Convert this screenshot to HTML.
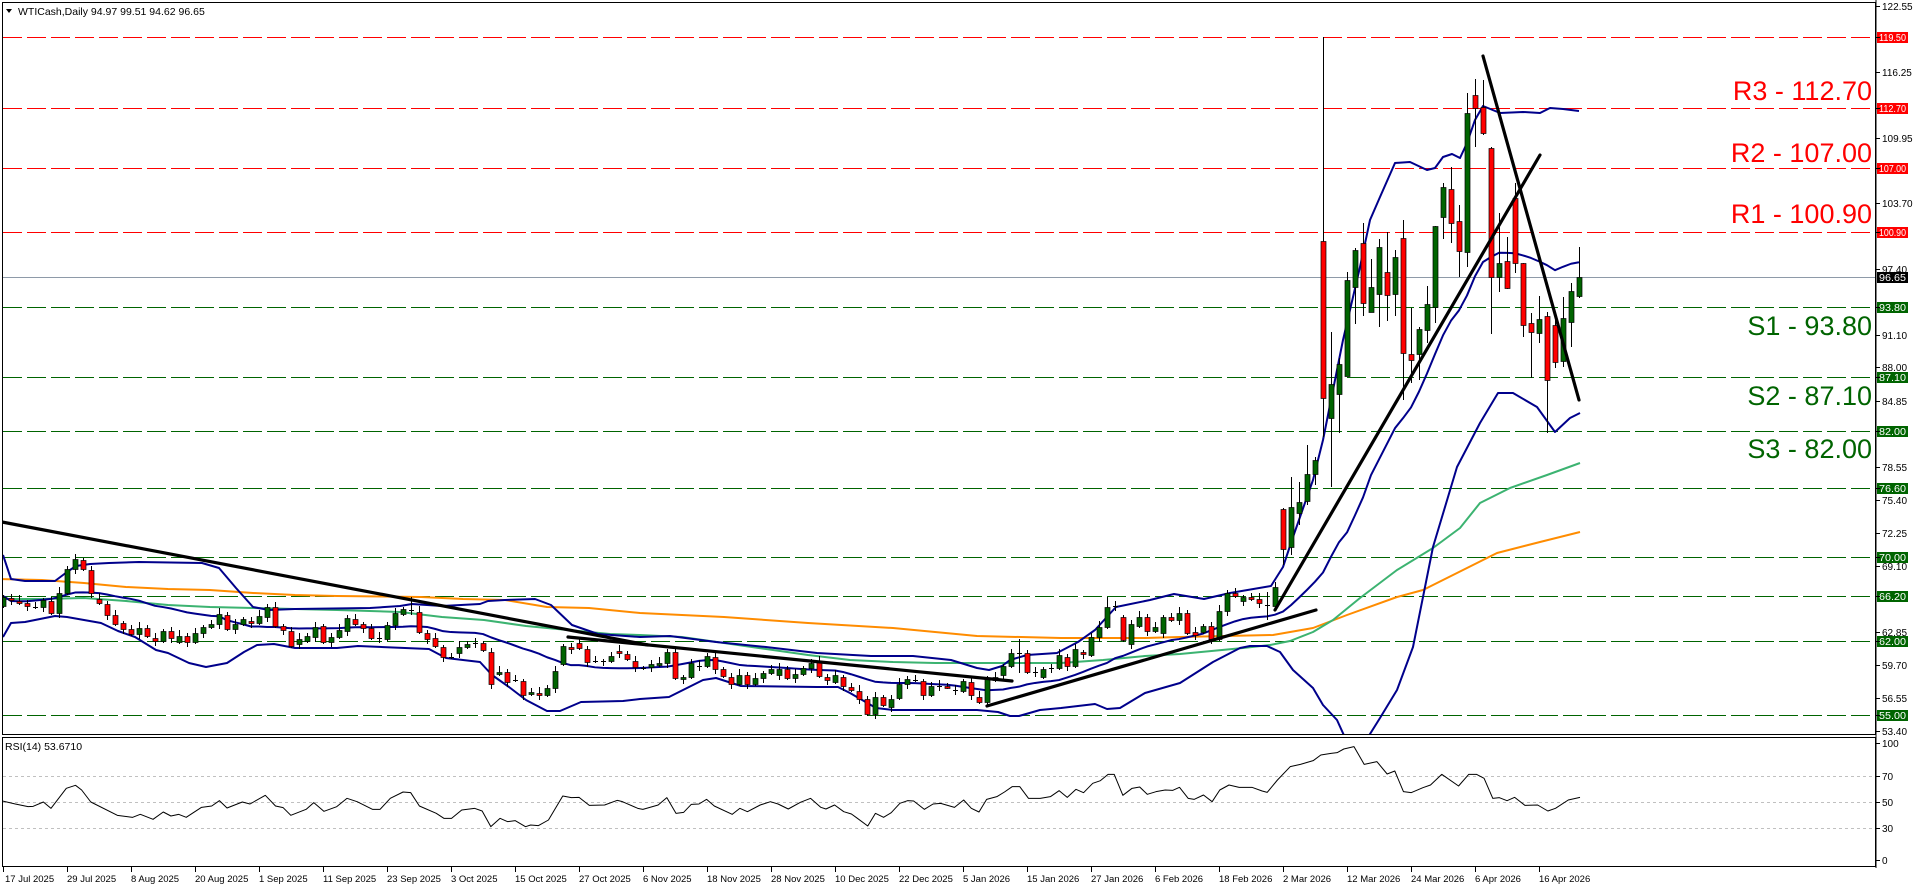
<!DOCTYPE html>
<html><head><meta charset="utf-8">
<style>
html,body{margin:0;padding:0;background:#fff;}
svg{display:block;font-family:"Liberation Sans",sans-serif;}
</style></head>
<body>
<svg id="c" width="1916" height="888" viewBox="0 0 1916 888" xmlns="http://www.w3.org/2000/svg">
<defs><clipPath id="mp"><rect x="3" y="3" width="1872" height="731"/></clipPath>
<clipPath id="rp"><rect x="3" y="738" width="1872" height="128"/></clipPath></defs>
<rect width="1916" height="888" fill="#fff"/>
<g id="lines"></g>
<g id="ind" clip-path="url(#mp)"></g>
<g id="cand" clip-path="url(#mp)"></g>
<g id="trend" clip-path="url(#mp)"></g>
<g id="rsi" clip-path="url(#rp)"></g>
<rect x="2.5" y="2.5" width="1873" height="732" fill="none" stroke="#000" stroke-width="1"/>
<rect x="2.5" y="737.5" width="1873" height="129" fill="none" stroke="#000" stroke-width="1"/>
<line x1="1876" y1="0" x2="1876" y2="868" stroke="#000"/>
<polygon points="6,9 12,9 9,13" fill="#000"/>
<text x="18" y="15" font-size="10.5" fill="#000">WTICash,Daily  94.97 99.51 94.62 96.65</text>
<text x="5" y="750" font-size="10.5" fill="#000">RSI(14) 53.6710</text>
<g font-size="27" text-anchor="end">
<text x="1872" y="100" fill="#ff0000">R3 - 112.70</text>
<text x="1872" y="162" fill="#ff0000">R2 - 107.00</text>
<text x="1872" y="223" fill="#ff0000">R1 - 100.90</text>
<text x="1872" y="335" fill="#006400">S1 - 93.80</text>
<text x="1872" y="405" fill="#006400">S2 - 87.10</text>
<text x="1872" y="458" fill="#006400">S3 - 82.00</text>
</g>
<g font-size="10" fill="#000" id="ax">
<text x="1882" y="10">122.55</text>
<text x="1882" y="76">116.25</text>
<text x="1882" y="142">109.95</text>
<text x="1882" y="207">103.70</text>
<text x="1882" y="273">97.40</text>
<text x="1882" y="339">91.10</text>
<text x="1882" y="371">88.00</text>
<text x="1882" y="405">84.85</text>
<text x="1882" y="471">78.55</text>
<text x="1882" y="504">75.40</text>
<text x="1882" y="537">72.25</text>
<text x="1882" y="570">69.10</text>
<text x="1882" y="636">62.85</text>
<text x="1882" y="669">59.70</text>
<text x="1882" y="702">56.55</text>
<text x="1882" y="735">53.40</text>
<text x="1882" y="747">100</text>
<text x="1882" y="780">70</text>
<text x="1882" y="806">50</text>
<text x="1882" y="832">30</text>
<text x="1882" y="864">0</text>
</g>
<g id="boxes" font-size="10"></g>
<g font-size="9.5" fill="#000" id="dates">
<text x="5" y="882">17 Jul 2025</text>
<text x="67" y="882">29 Jul 2025</text>
<text x="131" y="882">8 Aug 2025</text>
<text x="195" y="882">20 Aug 2025</text>
<text x="259" y="882">1 Sep 2025</text>
<text x="323" y="882">11 Sep 2025</text>
<text x="387" y="882">23 Sep 2025</text>
<text x="451" y="882">3 Oct 2025</text>
<text x="515" y="882">15 Oct 2025</text>
<text x="579" y="882">27 Oct 2025</text>
<text x="643" y="882">6 Nov 2025</text>
<text x="707" y="882">18 Nov 2025</text>
<text x="771" y="882">28 Nov 2025</text>
<text x="835" y="882">10 Dec 2025</text>
<text x="899" y="882">22 Dec 2025</text>
<text x="963" y="882">5 Jan 2026</text>
<text x="1027" y="882">15 Jan 2026</text>
<text x="1091" y="882">27 Jan 2026</text>
<text x="1155" y="882">6 Feb 2026</text>
<text x="1219" y="882">18 Feb 2026</text>
<text x="1283" y="882">2 Mar 2026</text>
<text x="1347" y="882">12 Mar 2026</text>
<text x="1411" y="882">24 Mar 2026</text>
<text x="1475" y="882">6 Apr 2026</text>
<text x="1539" y="882">16 Apr 2026</text>
</g>
<g id="ticks"></g>
</svg>
<script>
var NS="http://www.w3.org/2000/svg";
function el(p,t,a){var e=document.createElementNS(NS,t);for(var k in a)e.setAttribute(k,a[k]);p.appendChild(e);return e;}
function g(id){return document.getElementById(id);}
var lv=[[37,"#ff0000","119.50"],[108,"#ff0000","112.70"],[168,"#ff0000","107.00"],[232,"#ff0000","100.90"],
[307,"#006400","93.80"],[377,"#006400","87.10"],[431,"#006400","82.00"],[488,"#006400","76.60"],[557,"#006400","70.00"],[596,"#006400","66.20"],[641,"#006400","62.00"],[715,"#006400","55.00"]];
lv.forEach(function(l){
 el(g("lines"),"line",{x1:3,y1:l[0]+.5,x2:1875,y2:l[0]+.5,stroke:l[1],"stroke-width":1,"stroke-dasharray":"19 5"});
 el(g("boxes"),"rect",{x:1877,y:l[0]-5,width:31,height:11,fill:l[1]});
 var t=el(g("boxes"),"text",{x:1879,y:l[0]+4,fill:"#fff",textLength:27,lengthAdjust:"spacingAndGlyphs"});t.textContent=l[2];
});
el(g("lines"),"line",{x1:3,y1:277.5,x2:1875,y2:277.5,stroke:"#8e9aa8","stroke-width":1});
el(g("boxes"),"rect",{x:1877,y:272,width:31,height:11,fill:"#000"});
var t=el(g("boxes"),"text",{x:1879,y:281,fill:"#fff",textLength:27,lengthAdjust:"spacingAndGlyphs"});t.textContent="96.65";
[776,802,828].forEach(function(y){el(g("lines"),"line",{x1:3,y1:y+.5,x2:1875,y2:y+.5,stroke:"#c0c0c0","stroke-dasharray":"3 3"});});
for(var k=0;k<25;k++){var x=3+64*k;el(g("ticks"),"line",{x1:x+.5,y1:867,x2:x+.5,y2:872,stroke:"#000"});}
[6,37,72,108,138,168,203,232,269,307,335,367,377,401,431,467,488,500,533,557,566,596,632,641,665,698,715,731,743,776,802,828,860].forEach(function(y){el(g("ticks"),"line",{x1:1876,y1:y+.5,x2:1880,y2:y+.5,stroke:"#000"});});
var d={0:[597,606,'g'],1:[598,600,'r'],2:[601,603,'r'],3:[603,606,'r'],4:[607,607,'d'],5:[600,607,'g'],6:[601,613,'r'],7:[593,613,'g'],8:[569,593,'g'],9:[559,569,'g'],10:[560,569,'r'],11:[570,593,'r'],12:[599,603,'r'],13:[604,615,'r'],14:[615,624,'r'],15:[623,629,'r'],16:[629,634,'r'],17:[628,634,'g'],18:[628,636,'r'],19:[638,641,'r'],20:[631,641,'g'],21:[631,638,'r'],22:[636,642,'g'],23:[636,642,'r'],24:[633,642,'g'],25:[627,633,'g'],26:[624,627,'g'],27:[614,624,'g'],28:[615,629,'r'],29:[624,629,'g'],30:[619,624,'g'],31:[621,623,'r'],32:[616,623,'g'],33:[607,617,'g'],34:[607,626,'r'],35:[626,630,'r'],36:[631,646,'r'],37:[639,644,'g'],38:[636,641,'g'],39:[627,637,'g'],40:[626,642,'r'],41:[637,642,'g'],42:[630,637,'g'],43:[618,631,'g'],44:[619,624,'r'],45:[624,628,'r'],46:[628,638,'r'],47:[638,638,'d'],48:[625,639,'g'],49:[613,625,'g'],50:[609,614,'g'],51:[610,610,'d',597],52:[612,632,'r'],53:[633,639,'r'],54:[638,646,'r'],55:[647,657,'r'],56:[657,657,'d'],57:[647,653,'g'],58:[644,647,'g'],59:[643,643,'d'],60:[643,650,'r'],61:[652,684,'r'],62:[672,674,'g'],63:[672,682,'r'],64:[680,680,'d'],65:[681,695,'r'],66:[692,694,'g'],67:[693,695,'r'],68:[688,695,'g'],69:[671,688,'g'],70:[646,664,'g'],71:[647,649,'r'],72:[643,648,'r'],73:[649,662,'r'],74:[661,661,'d'],75:[661,661,'d'],76:[656,661,'g'],77:[651,653,'r'],78:[654,659,'r'],79:[661,667,'r'],
80:[668,668,'d'],81:[664,667,'g'],82:[663,665,'g'],83:[652,663,'g'],84:[652,678,'r'],85:[677,679,'g'],86:[663,677,'g'],87:[666,666,'d'],88:[656,666,'g'],89:[657,669,'r'],90:[669,676,'r'],91:[677,684,'r'],92:[675,684,'g'],93:[675,684,'r'],94:[678,684,'g'],95:[673,678,'g'],96:[669,673,'g'],97:[669,675,'g'],98:[669,678,'r'],99:[674,678,'g'],100:[668,674,'g'],101:[663,668,'g'],102:[662,676,'r'],103:[677,680,'r'],104:[675,682,'g'],105:[677,686,'r'],106:[687,690,'r'],107:[691,699,'r'],108:[699,714,'r'],109:[697,714,'g'],110:[697,705,'r'],111:[699,707,'g'],112:[684,698,'g'],113:[679,684,'g'],114:[680,680,'d'],115:[681,695,'r'],116:[686,695,'g'],117:[686,686,'d'],118:[686,687,'r'],119:[690,690,'d'],120:[681,691,'g'],121:[682,695,'r'],122:[697,702,'r'],123:[679,702,'g'],124:[677,680,'g'],125:[666,675,'g'],126:[653,666,'g'],127:[653,653,'d',639,673],128:[653,672,'r'],129:[672,672,'d'],130:[669,677,'g'],131:[668,668,'d'],132:[655,668,'g'],133:[657,666,'r'],134:[649,666,'g'],135:[652,654,'r'],136:[637,655,'g'],137:[627,637,'g'],138:[607,627,'g',597],139:[606,606,'d'],140:[617,640,'r'],141:[624,644,'g'],142:[617,626,'g'],143:[617,631,'r'],144:[627,631,'g'],145:[617,633,'g'],146:[617,620,'r'],147:[613,620,'g'],148:[613,633,'r'],149:[632,635,'r'],150:[626,632,'g'],151:[626,639,'r'],152:[611,639,'g'],153:[593,611,'g'],154:[593,596,'r'],155:[597,601,'g'],156:[597,599,'r'],157:[599,603,'r'],158:[605,605,'d',592,620],159:[587,606,'g'],160:[509,549,'r',508,565],161:[507,547,'g',477,555],162:[502,513,'g',482,525],163:[474,501,'g',445,505],164:[460,474,'g',457,485],
165:[241,398,'r',37,437],166:[384,418,'g',332,487],167:[364,394,'g',358,433],168:[280,376,'g',272,376],169:[250,287,'g',248,324],170:[243,303,'r',223,316],171:[287,312,'g',259,312],172:[247,294,'g',239,327],173:[272,295,'r',232,321],174:[257,294,'g',250,316],175:[238,353,'r',220,400],176:[354,360,'r',308,383],177:[329,354,'g',327,380],178:[304,330,'g',286,343],179:[226,307,'g',226,323],180:[187,217,'g',183,239],181:[189,223,'r',167,243],182:[221,251,'r',205,277],183:[113,252,'g',93,267],184:[95,108,'r',79,147],185:[107,133,'r',80,135],186:[148,277,'r',147,334],187:[263,277,'g',213,292],188:[261,288,'r',237,289],189:[198,263,'r',183,273],190:[263,325,'r',263,337],191:[323,332,'r',313,378],192:[319,333,'g',296,343],193:[316,380,'r',312,433],194:[325,362,'r',318,368],195:[318,361,'g',297,367],196:[291,322,'g',283,347],197:[277,296,'g',247,298]};
var C=g("cand");
for(var i=0;i<=197;i++){var b=d[i];if(!b)continue;var x=3+8*i;
 var wt=b[3]!==undefined?b[3]:b[0]-2-(i*7%5);var wb=b[4]!==undefined?b[4]:b[1]+2+(i*3%6);
 el(C,"line",{x1:x+.5,y1:wt,x2:x+.5,y2:wb,stroke:"#000","stroke-width":1});
 if(b[2]=='d'){el(C,"line",{x1:x-2,y1:b[0]+.5,x2:x+3,y2:b[0]+.5,stroke:"#000"});}
 else{var h=Math.max(b[1]-b[0],2);el(C,"rect",{x:x-2,y:b[0]+.5,width:5,height:h,fill:b[2]=='g'?'#006400':'#ff0000',stroke:'#000','stroke-width':0.7});}
}
function pl(par,pts,col,w){el(par,"polyline",{points:pts.map(function(p){return p[0]+","+p[1];}).join(" "),fill:"none",stroke:col,"stroke-width":w,"stroke-linejoin":"round"});}
var U=[[3,555],[11,579],[25,581],[55,581],[67,572],[76,566],[90,564],[109,563],[139,562],[202,563],[219,568],[236,588],[253,607],[269,610],[295,609],[370,608],[400,606],[412,604],[442,606],[480,604],[488,601],[505,600],[535,599],[551,605],[572,625],[598,634],[640,637],[670,636],[716,642],[766,647],[817,653],[871,656],[913,656],[951,660],[977,668],[989,670],[1002,666],[1010,660],[1027,655],[1057,653],[1078,642],[1095,630],[1116,607],[1150,600],[1174,594],[1204,599],[1230,593],[1271,586],[1283,567],[1293,537],[1313,480],[1323,440],[1333,390],[1343,340],[1360,267],[1370,220],[1380,197],[1395,163],[1410,162],[1427,170],[1435,168],[1443,157],[1452,154],[1460,158],[1467,143],[1475,120],[1483,106],[1500,113],[1523,112],[1540,113],[1550,108],[1563,109],[1579,111]];
var L=[[3,637],[11,623],[25,622],[55,616],[67,617],[101,623],[118,631],[135,637],[156,650],[168,653],[189,663],[206,667],[227,663],[244,652],[257,645],[274,644],[295,648],[337,648],[358,646],[429,649],[446,658],[480,662],[492,675],[509,687],[526,700],[547,711],[560,711],[581,702],[623,701],[640,699],[669,697],[703,680],[716,678],[741,686],[817,687],[838,687],[850,693],[876,708],[893,710],[935,710],[977,710],[998,712],[1010,716],[1019,716],[1040,710],[1061,708],[1095,704],[1107,709],[1120,708],[1145,693],[1180,683],[1213,662],[1240,648],[1250,646],[1267,646],[1280,652],[1293,670],[1313,688],[1323,705],[1337,720],[1347,742],[1365,742],[1380,718],[1397,690],[1413,647],[1433,547],[1457,467],[1480,423],[1498,393],[1513,393],[1537,407],[1555,432],[1570,418],[1580,413]];
function interp(A,x){for(var j=0;j<A.length-1;j++){if(x>=A[j][0]&&x<=A[j+1][0]){var t=(x-A[j][0])/(A[j+1][0]-A[j][0]||1);return A[j][1]+t*(A[j+1][1]-A[j][1]);}}return A[A.length-1][1];}
var M=[];for(var x=3;x<=1579;x+=8){M.push([x,(interp(U,x)+interp(L,x))/2]);}
var G=[[0,599],[42,599],[84,598],[126,601],[168,605],[210,607],[253,608],[295,609],[337,610],[400,612],[442,617],[484,620],[526,626],[568,630],[610,634],[640,635],[682,637],[724,643],[766,649],[808,655],[850,660],[893,662],[935,663],[977,663],[1019,663],[1061,663],[1103,660],[1145,656],[1180,654],[1243,648],[1270,645],[1290,641],[1313,632],[1333,620],[1360,598],[1397,570],[1433,548],[1460,528],[1480,503],[1510,488],[1547,475],[1580,463]];
var O=[[0,579],[42,580],[84,583],[126,587],[168,589],[210,590],[253,593],[295,595],[337,596],[421,597],[463,599],[505,600],[547,607],[589,608],[640,613],[724,617],[808,623],[893,628],[977,636],[1061,638],[1145,638],[1180,637],[1273,635],[1313,628],[1347,615],[1397,597],[1423,590],[1463,570],[1497,553],[1540,542],[1580,532]];
var I=g("ind");
pl(I,O,"#ff8c00",2);pl(I,G,"#3cb371",2);
pl(I,U,"#00008b",2);pl(I,M,"#00008b",2);pl(I,L,"#00008b",2);
var T=g("trend");
[[2,522,648,645],[568,637,1012,681],[987,706,1316,610],[1275,610,1540,155],[1483,56,1579,400]].forEach(function(s){el(T,"line",{x1:s[0],y1:s[1],x2:s[2],y2:s[3],stroke:"#000","stroke-width":3.2,"stroke-linecap":"round"});});
var z9=[[5,213],[30,222],[55,230],[65,229],[85,216],[100,235],[130,175],[148,166],[160,180],[178,216],[230,256],[260,262],[275,253],[300,268],[320,246],[335,258],[350,253],[365,262],[395,232],[415,228],[430,212],[445,234],[475,216],[490,222],[520,196],[540,228],[555,233],[570,256],[600,238],[615,218],[635,244],[660,230],[680,205],[700,215],[730,238],[745,238],[765,205],[790,186],[805,188],[822,228],[855,250],[870,265],[885,265],[905,240],[930,235],[945,243],[962,290],[980,265],[995,275],[1010,272],[1030,290],[1040,285],[1055,287],[1075,270],[1103,198],[1120,203],[1135,202],[1155,226],[1185,225],[1210,211],[1220,215],[1250,235],[1260,238],[1290,225],[1307,203],[1325,250],[1340,247],[1355,223],[1370,222],[1385,208],[1400,228],[1435,253],[1450,235],[1465,245],[1490,225],[1510,215],[1525,222],[1545,237]];
var z10=[[0,218],[15,237],[40,217],[60,205],[80,232],[90,237],[107,225],[125,245],[140,252],[150,263],[172,288],[187,250],[203,262],[218,248],[235,220],[250,212],[262,213],[283,238],[300,222],[315,220],[342,232],[360,210],[375,235],[390,246],[405,208],[425,200],[440,186],[455,170],[470,170],[487,205],[510,205],[530,200],[547,182],[563,202],[580,178],[595,188],[613,160],[628,152],[643,133],[655,133],[672,196],[690,175],[705,171],[720,193],[737,185],[755,180],[770,181],[783,172],[800,205],[812,208],[830,195],[847,215],[862,180],[880,165],[900,172],[925,172],[945,183],[955,187],[975,150],[1000,110],[1020,103],[1045,92],[1060,75],[1080,70],[1092,68],[1105,57],[1125,50],[1145,103],[1170,95],[1190,132],[1205,123],[1222,185],[1237,188],[1260,173],[1275,165],[1297,133],[1330,168],[1350,133],[1365,133],[1380,145],[1397,205],[1410,203],[1425,212],[1440,202],[1460,226],[1485,225],[1505,243],[1520,235],[1545,210],[1568,202]];
var R=z9.map(function(p){return [p[0]/1.96,730+p[1]/3];}).concat(z10.map(function(p){return [780+p[0]/1.96,730+p[1]/3];}).filter(function(p){return p[0]>790;}));
pl(g("rsi"),R,"#000",1);
</script>
</body></html>
